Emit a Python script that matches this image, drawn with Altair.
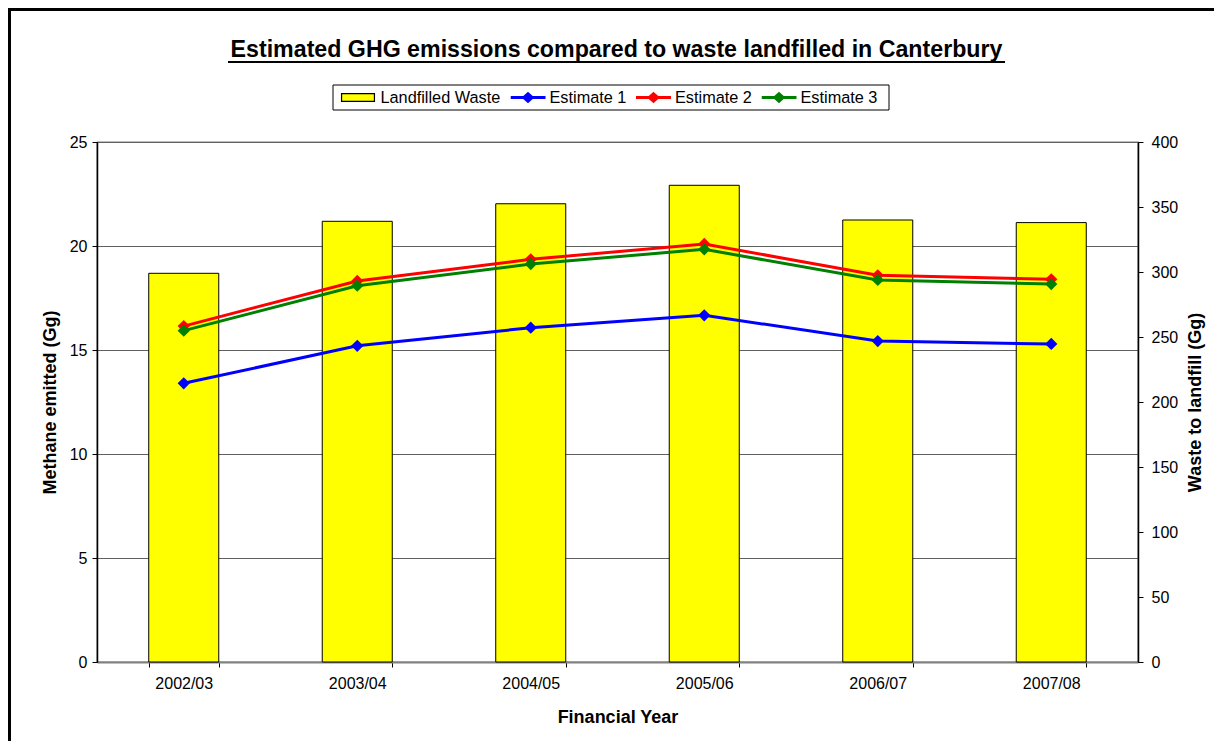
import altair as alt
import pandas as pd

# ---------------- data ----------------
years = ["2002/03", "2003/04", "2004/05", "2005/06", "2006/07", "2007/08"]
waste = [299, 339, 352.5, 366.7, 340, 338]
estimate1 = [13.4, 15.2, 16.07, 16.67, 15.43, 15.29]
estimate2 = [16.15, 18.32, 19.36, 20.1, 18.59, 18.4]
estimate3 = [15.93, 18.09, 19.13, 19.84, 18.37, 18.17]
bar_name = ["Landfilled Waste"]
bar_color = ["#FFFF00"]
line_names = ["Estimate 1", "Estimate 2", "Estimate 3"]
line_colors = ["#0000FF", "#FF0000", "#008000"]
methane_ticks = [0, 5, 10, 15, 20, 25]
waste_ticks = [0, 50, 100, 150, 200, 250, 300, 350, 400]
title_text = "Estimated GHG emissions compared to waste landfilled in Canterbury"

FONT = "Liberation Sans"
W, H = 1041, 520
PAD = {"left": 89, "top": 134, "right": 76, "bottom": 79}

bar_df = pd.DataFrame({"year": years, "waste": waste, "waste_series": bar_name[0]})
line_df = pd.concat(
    [pd.DataFrame({"year": years, "methane": v, "estimate": n, "estimate_line": n})
     for n, v in zip(line_names, [estimate1, estimate2, estimate3])],
    ignore_index=True,
)

x_scale = alt.Scale(paddingInner=0.5965, paddingOuter=0.29825)
x_axis = alt.Axis(
    title="Financial Year", labelAngle=0, tickBand="extent",
    labelFont=FONT, labelFontSize=16, labelColor="black", labelPadding=8,
    titleFont=FONT, titleFontSize=18, titleFontWeight="bold", titleColor="black",
    titlePadding=17, domainColor="#808080", domainWidth=2,
    tickColor="black", tickSize=5, grid=False,
)

rect_path = "M-0.94,-0.22H0.94V0.22H-0.94Z"
line_path = "M-1,-0.09H-0.27L0,-0.33L0.27,-0.09H1V0.09H0.27L0,0.33L-0.27,0.09H-1Z"

legend_common = dict(
    title=None, orient="none", direction="horizontal",
    labelFont=FONT, labelFontSize=16.3, labelColor="black", labelOffset=4,
    symbolSize=1225, clipHeight=19, columnPadding=9.5, padding=3,
    symbolOpacity=1, legendY=-57,
)

bars = alt.Chart(bar_df).mark_bar(stroke="black", strokeWidth=1, opacity=1).encode(
    x=alt.X("year:N", sort=years, scale=x_scale, axis=x_axis),
    y=alt.Y("waste:Q", scale=alt.Scale(domain=[0, 400], nice=False),
            axis=alt.Axis(
                orient="right", title="Waste to landfill (Gg)", values=waste_ticks,
                labelFont=FONT, labelFontSize=16, labelColor="black", labelPadding=8,
                titleFont=FONT, titleFontSize=18, titleFontWeight="bold", titleColor="black",
                titleAngle=270, titleBaseline="top", titlePadding=9,
                domainColor="black", domainWidth=1.5,
                tickColor="black", tickSize=5, grid=False,
            )),
    fill=alt.Fill("waste_series:N", scale=alt.Scale(domain=bar_name, range=bar_color),
                  legend=alt.Legend(legendX=239.5, symbolType=rect_path,
                                    symbolStrokeColor="black", symbolStrokeWidth=1.2,
                                    **legend_common)),
)

methane_y = alt.Y("methane:Q", scale=alt.Scale(domain=[0, 25], nice=False),
                  axis=alt.Axis(
                      orient="left", title="Methane emitted (Gg)", values=methane_ticks,
                      labelFont=FONT, labelFontSize=16, labelColor="black", labelPadding=5,
                      titleFont=FONT, titleFontSize=18, titleFontWeight="bold", titleColor="black",
                      titlePadding=10, domainColor="black", domainWidth=1.5,
                      tickColor="black", tickSize=5,
                      grid=True, gridColor="#606060", gridWidth=1,
                  ))

# stroke scale listed in reverse order (same mapping) so its legend-less scale
# is not merged with the colour legend of the diamonds
lines = alt.Chart(line_df).mark_line(strokeWidth=3).encode(
    x=alt.X("year:N", sort=years),
    y=methane_y,
    stroke=alt.Stroke("estimate_line:N",
                      scale=alt.Scale(domain=line_names[::-1], range=line_colors[::-1]),
                      legend=None),
    detail="estimate_line:N",
)
points = alt.Chart(line_df).mark_point(shape="diamond", filled=True, size=150, opacity=1).encode(
    x=alt.X("year:N", sort=years),
    y=alt.Y("methane:Q"),
    color=alt.Color("estimate:N", scale=alt.Scale(domain=line_names, range=line_colors),
                    legend=alt.Legend(legendX=410.5, columns=3, symbolType=line_path,
                                      symbolStrokeWidth=0, **legend_common)),
)

dummy = pd.DataFrame({"k": [0]})
legend_box = alt.Chart(dummy).mark_rect(fill="white", stroke="black", strokeWidth=1).encode(
    x=alt.value(236), x2=alt.value(792), y=alt.value(-57), y2=alt.value(-32))
title_mark = alt.Chart(dummy).mark_text(
    font=FONT, fontSize=23.2, fontWeight="bold", color="black", align="center", baseline="alphabetic"
).encode(x=alt.value(W / 2 - 1), y=alt.value(-85), text=alt.value(title_text))
underline = alt.Chart(dummy).mark_rule(color="black", strokeWidth=2).encode(
    x=alt.value(131), x2=alt.value(908), y=alt.value(-80))
border_left = alt.Chart(dummy).mark_rule(color="black", strokeWidth=3).encode(
    x=alt.value(-87.5), y=alt.value(-134), y2=alt.value(H + PAD["bottom"]))
border_top = alt.Chart(dummy).mark_rule(color="black", strokeWidth=3).encode(
    x=alt.value(-89), x2=alt.value(W + PAD["right"]), y=alt.value(-132.5))

core = alt.layer(bars, alt.layer(lines, points)).resolve_scale(y="independent")

chart = alt.layer(legend_box, core, title_mark, underline, border_left, border_top).properties(
    width=W, height=H, padding=PAD,
    autosize=alt.AutoSizeParams(type="none"),
    background="white",
).configure_view(stroke="black", strokeWidth=1.2)

chart.save("out.html", embed_options={"renderer": "svg", "actions": False})
